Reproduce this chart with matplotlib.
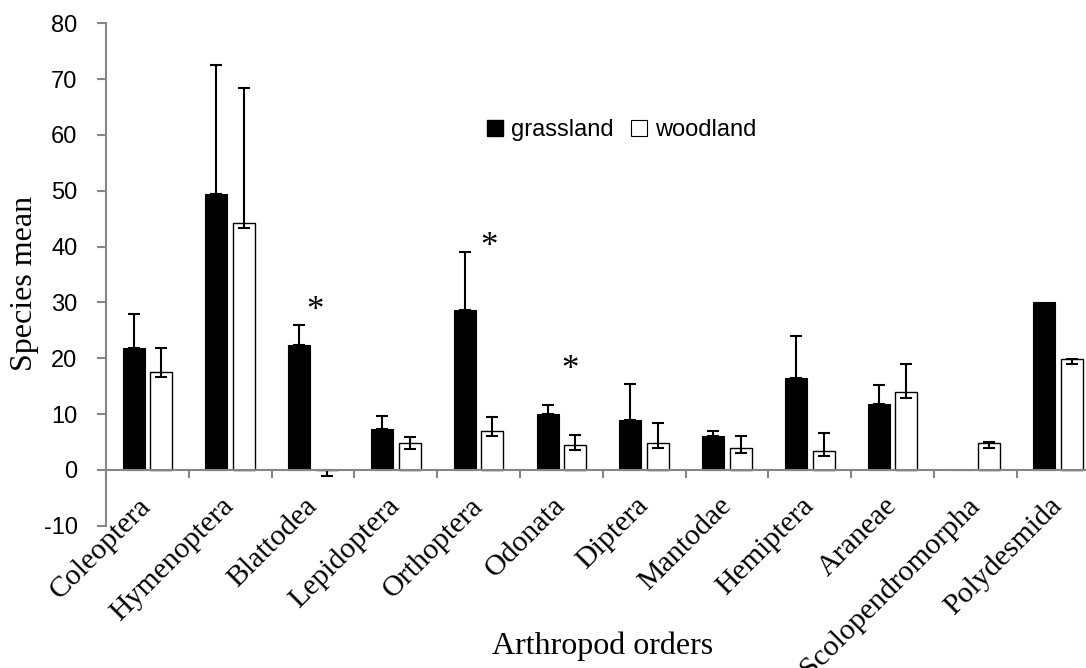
import numpy as np
import matplotlib
matplotlib.use("Agg")
import matplotlib.pyplot as plt
from matplotlib.patches import Patch

plt.rcParams["axes.unicode_minus"] = False

orders = ["Coleoptera", "Hymenoptera", "Blattodea", "Lepidoptera", "Orthoptera",
          "Odonata", "Diptera", "Mantodae", "Hemiptera", "Araneae",
          "Scolopendromorpha", "Polydesmida"]

# species means
grassland = [21.9, 49.4, 22.4, 7.3, 28.7, 10.0, 9.0, 6.0, 16.4, 11.9, 0, 30.0]
grassland_err = [6.0, 23.1, 3.6, 2.4, 10.4, 1.7, 6.4, 1.0, 7.6, 3.3, 0, 0]

woodland = [17.5, 44.3, 0, 4.8, 7.0, 4.4, 4.9, 4.0, 3.4, 14.0, 4.9, 19.9]
woodland_err_up = [4.4, 24.1, 0, 1.1, 2.5, 1.9, 3.6, 2.0, 3.2, 5.0, 0.1, 0.0]
woodland_err_down = [0.8, 1.0, 1.0, 1.0, 1.0, 0.9, 0.9, 1.0, 0.9, 1.1, 0.9, 0.9]

# significant differences
star_orders = ["Blattodea", "Orthoptera", "Odonata"]
star_y = [28.3, 39.9, 17.9]

SERIF = "Liberation Serif"
SANS = "Liberation Sans"
GREY = "#868686"

W, H = 1086, 668
fig = plt.figure(figsize=(W / 100, H / 100), dpi=100)
# axes run past the right edge, as in the original (cropped) figure
ax = fig.add_axes([106 / W, 142.2 / H, 993.6 / W, 502.5 / H])

x = np.arange(len(orders))
bw = 0.265
off = 0.167

ax.bar(x - off, grassland, bw, color="black", edgecolor="black", linewidth=0.8)
ax.bar(x + off, woodland, bw, color="white", edgecolor="black", linewidth=1.0)

g = np.array(grassland)
ge = np.array(grassland_err)
keep = ge > 0
ax.errorbar(x[keep] - off, g[keep], yerr=[np.zeros(keep.sum()), ge[keep]],
            fmt="none", ecolor="black", elinewidth=1.5, capsize=4.2, capthick=1.5)
ax.errorbar(x + off, woodland, yerr=[woodland_err_down, woodland_err_up],
            fmt="none", ecolor="black", elinewidth=1.5, capsize=4.2, capthick=1.5)

star_dx = [0.03, 0.13, 0.10]
for name, yv, dx in zip(star_orders, star_y, star_dx):
    ax.text(orders.index(name) + dx, yv, "*", ha="center", va="center",
            fontsize=25, family=SERIF)

ax.set_xlim(-0.5, len(orders) - 0.5)
ax.set_ylim(-10, 80)
ax.set_yticks(np.arange(-10, 81, 10))

for s in ["top", "right"]:
    ax.spines[s].set_visible(False)
ax.spines["bottom"].set_position(("data", 0))
for s in ["left", "bottom"]:
    ax.spines[s].set_color(GREY)
    ax.spines[s].set_linewidth(1.5)

ax.set_xticks(x)
ax.set_xticks(np.arange(-0.5, len(orders), 1), minor=True)
ax.tick_params(axis="x", which="major", length=0, pad=23)
ax.tick_params(axis="x", which="minor", length=5.5, width=1.5, color=GREY, direction="out")
ax.tick_params(axis="y", length=6.5, width=1.5, color=GREY, pad=14)
ax.set_xticklabels(orders, fontsize=21.5, family=SERIF, rotation=45,
                   ha="right", va="center", rotation_mode="anchor")
for lab in ax.get_yticklabels():
    lab.set_fontsize(17)
    lab.set_family(SANS)

fig.text(25 / W, 1 - 283 / H, "Species mean", rotation=90, ha="center", va="center",
         fontsize=23, family=SERIF)
fig.text(603 / W, 1 - 654 / H, "Arthropod orders", ha="center", va="baseline",
         fontsize=23, family=SERIF)

handles = [Patch(facecolor="black", edgecolor="black"),
           Patch(facecolor="white", edgecolor="black", linewidth=0.8)]
fig.legend(handles, ["grassland", "woodland"], loc="center left",
           bbox_to_anchor=(486.7 / W, 1 - 130 / H), ncol=2, frameon=False,
           prop={"family": SANS, "size": 17}, handlelength=0.68, handleheight=0.68,
           handletextpad=0.34, columnspacing=0.76, borderpad=0, borderaxespad=0)

fig.savefig("out.png", dpi=100)
